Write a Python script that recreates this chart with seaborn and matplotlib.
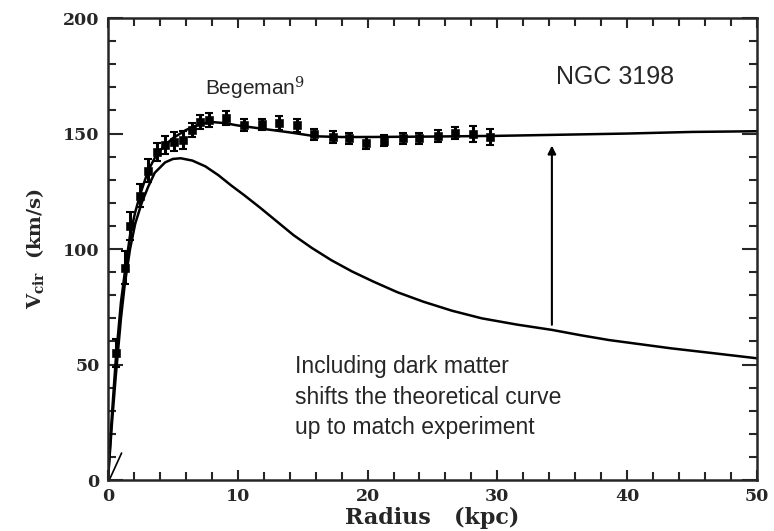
import numpy as np
import matplotlib
matplotlib.use("Agg")
import matplotlib.pyplot as plt
import seaborn as sns
from matplotlib.ticker import MultipleLocator

radius_obs = [0.6, 1.3, 1.7, 2.5, 3.1, 3.75, 4.4, 5.1, 5.8, 6.5, 7.1, 7.8, 9.1,
              10.5, 11.9, 13.2, 14.6, 15.9, 17.3, 18.6, 19.9, 21.3, 22.7, 24.0,
              25.4, 26.7, 28.1, 29.4]
vel_obs = [55, 92, 110, 123, 134, 142, 145, 146.5, 147.2, 151.5, 155, 156, 156.6,
           153.7, 154, 154.5, 153.5, 149.6, 148.6, 147.9, 146, 146.9, 147.9, 147.9,
           148.9, 150.3, 149.8, 148.4]
err_obs = [6, 7, 6, 5, 5, 4, 4, 4, 4, 3, 3, 3, 3,
           2.5, 2.5, 3, 3, 2.5, 2.5, 2.5, 2.5, 2.5, 2.5, 2.5,
           2.5, 2.5, 3.5, 3.5]

# fitted curve including dark matter halo
radius_fit = [0, 0.3, 0.6, 1.0, 1.3, 1.7, 2.1, 2.5, 3.1, 3.75, 4.4, 5.0, 6.0, 7.0,
              8.0, 9.0, 10.0, 12.0, 14.0, 16.0, 18.0, 20.0, 25.0, 30.0, 35.0,
              40.0, 45.0, 50.0]
vel_fit = [0, 28, 52, 77, 90, 106, 116, 124, 134, 141, 145, 148, 151.5, 154,
           155, 154.5, 153.5, 152, 150.5, 148.8, 148.5, 148.5, 148.7, 149, 149.5,
           150, 150.7, 151]

# disk only (no dark matter)
radius_disk = [0, 0.3, 0.6, 1.0, 1.3, 1.7, 2.1, 2.6, 3.1, 3.6, 4.4, 5.0, 5.6,
               6.5, 7.5, 8.5, 9.5, 10.5, 11.7, 13.0, 14.3, 15.7, 17.2, 18.8,
               20.45, 22.3, 24.3, 26.5, 28.8, 31.5, 34.2, 36.4, 38.6, 41.0,
               43.4, 46.5, 50.0]
vel_disk = [0, 24, 45, 70, 85, 100, 111, 120, 127, 133, 137.5, 139, 139.3,
            138.3, 135.8, 132, 127.5, 123.3, 118, 112, 106, 100.5, 95.2, 90.3,
            85.9, 81.3, 77.2, 73.3, 70, 67.3, 65, 62.7, 60.6, 58.8,
            57, 55, 52.7]

# little stray segment near the origin
stray_x = [0.1, 1.05]
stray_y = [0, 11.7]

arrow_r = 34.2
arrow_from, arrow_to = 66, 146

sns.set_style("ticks")
plt.rcParams["font.family"] = ["DejaVu Serif"]
plt.rcParams["mathtext.fontset"] = "dejavuserif"

fig = plt.figure(figsize=(7.74, 5.31), dpi=100)
ax = fig.add_axes([0.1395, 0.096, 0.8385, 0.870])

sns.lineplot(x=radius_fit, y=vel_fit, ax=ax, color="black", lw=1.8, sort=False)
sns.lineplot(x=radius_disk, y=vel_disk, ax=ax, color="black", lw=1.8, sort=False)
ax.plot(stray_x, stray_y, color="black", lw=1.2)

ax.errorbar(radius_obs, vel_obs, yerr=err_obs, fmt="none", ecolor="black",
            elinewidth=2.2, capsize=3, capthick=1.5)
sns.scatterplot(x=radius_obs, y=vel_obs, ax=ax, color="black", marker="s",
                s=30, edgecolor="black", zorder=5)

ax.annotate("", xy=(arrow_r, arrow_to), xytext=(arrow_r, arrow_from),
            arrowprops=dict(arrowstyle="-|>", color="black", lw=1.5,
                            mutation_scale=12))

ax.set_xlim(0, 50)
ax.set_ylim(0, 200)
ax.xaxis.set_major_locator(MultipleLocator(10))
ax.xaxis.set_minor_locator(MultipleLocator(2))
ax.yaxis.set_major_locator(MultipleLocator(50))
ax.yaxis.set_minor_locator(MultipleLocator(10))
ax.tick_params(which="both", direction="in", top=True, right=True,
               width=1.5, labelsize=12.5, pad=6)
ax.tick_params(which="major", length=11)
ax.tick_params(which="minor", length=6)
ax.tick_params(axis="x", which="major", length=7)
for lab in ax.get_xticklabels() + ax.get_yticklabels():
    lab.set_fontweight("bold")
for sp in ax.spines.values():
    sp.set_linewidth(1.8)

ax.set_xlabel("Radius   (kpc)", fontsize=16, fontweight="bold", labelpad=1)
ax.set_ylabel(r"$\mathbf{V}_{\mathbf{cir}}$  (km/s)", fontsize=14,
              fontweight="bold", labelpad=12)

sans = ["Liberation Sans", "DejaVu Sans"]
ax.text(7.5, 169.7, r"Begeman$^{9}$", fontsize=15, family=sans, va="center")
ax.text(34.5, 174.5, "NGC 3198", fontsize=18, family=sans, va="center")
ax.text(14.4, 54, "Including dark matter\nshifts the theoretical curve\nup to match experiment",
        fontsize=16.5, family=sans, va="top", linespacing=1.42)

fig.savefig("out.png", dpi=100)
